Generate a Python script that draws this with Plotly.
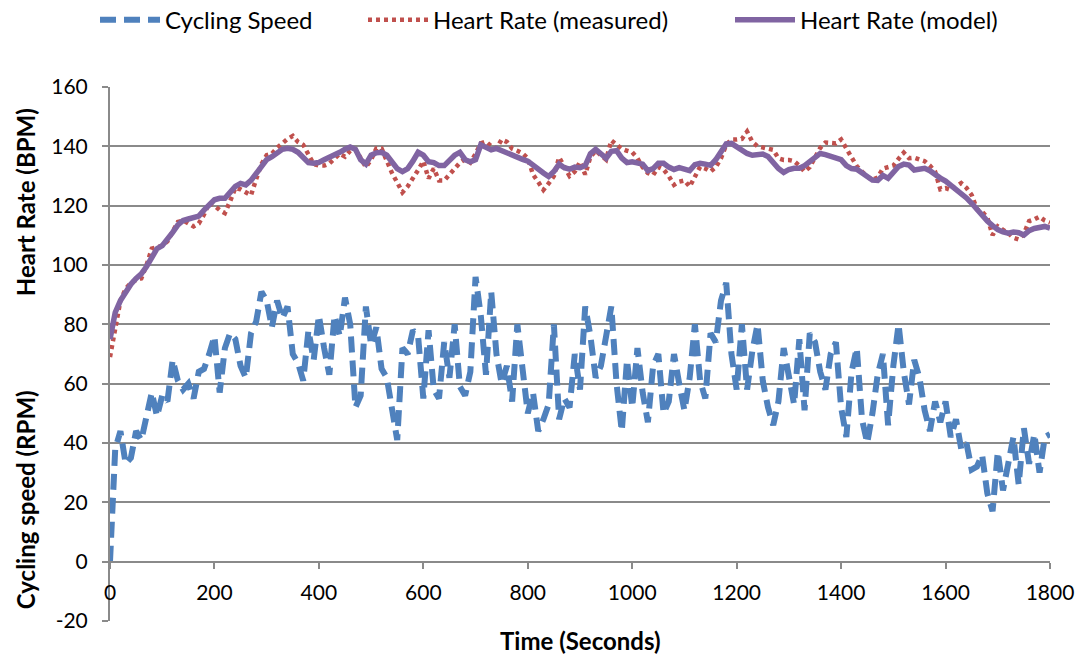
import plotly.graph_objects as go

# time axis (seconds), sampled every 10 s
time_s = list(range(0, 1801, 10))

cycling_speed = [
    0, 38, 44, 33, 35, 44, 41, 50, 57, 49, 56, 54, 68, 61, 58, 60, 55, 64, 65, 70,
    76, 57, 72, 77, 75, 66, 62, 77, 81, 91, 88, 79, 88, 82, 86, 70, 67, 61, 78, 68,
    83, 72, 63, 83, 76, 89, 80, 52, 56, 86, 73, 79, 65, 62, 51, 41, 72, 70, 78, 76,
    55, 78, 58, 55, 74, 62, 80, 59, 56, 64, 96, 83, 63, 91, 70, 60, 66, 54, 80, 64,
    50, 57, 44, 48, 53, 80, 48, 55, 52, 70, 58, 86, 76, 62, 66, 76, 86, 60, 44, 68,
    52, 72, 57, 47, 66, 70, 50, 54, 70, 60, 51, 62, 80, 61, 55, 77, 74, 88, 94, 70,
    58, 80, 58, 71, 80, 61, 52, 46, 54, 72, 63, 53, 75, 51, 77, 74, 64, 58, 70, 74,
    52, 42, 64, 72, 48, 40, 50, 63, 70, 46, 66, 80, 64, 53, 68, 62, 51, 44, 54, 47,
    54, 42, 48, 38, 40, 31, 32, 36, 23, 17, 37, 24, 33, 42, 26, 45, 33, 43, 30, 42,
    43,
]

hr_measured = [
    69, 78, 88, 92, 94, 95, 95.5, 100, 105.5, 106, 106.5, 108, 111.5, 114.5, 115, 114, 113, 114, 117, 121,
    120, 118.5, 117.5, 121.5, 126, 125.5, 124.5, 123.5, 129, 134, 137, 137.5, 139.5, 141, 142.5, 143.5, 141.5, 140.5, 137, 134,
    133.5, 133.5, 134.2, 136, 137.5, 136.5, 138.5, 139, 136, 133, 135.5, 139.3, 139.3, 135, 131, 127.8, 124.5, 126.5, 129, 132,
    135, 129.2, 132.5, 128.5, 128.5, 130.5, 133, 134.5, 135.7, 134.5, 137.5, 141, 141.6, 140, 139.3, 142.3, 141.5, 139.2, 138.5, 137.6,
    136, 130.5, 128, 125.3, 127.5, 130, 136.3, 133.5, 130, 131.5, 134.8, 130.5, 136.5, 138.5, 137, 135.5, 142, 140.8, 139.2, 138.5,
    138, 136, 133, 131, 130.3, 133, 132.2, 130, 127, 128.1, 128.5, 126.4, 130, 133.1, 132.5, 131.5, 133, 136, 140.5, 142.3,
    142.3, 142.5, 145, 141.5, 140, 139.5, 139.3, 138.8, 136, 135.4, 135.4, 135, 133.5, 131.5, 133, 136.5, 139.5, 141.3, 141.3, 141,
    142.3, 139.5, 136.2, 133.3, 131.5, 129.8, 128.7, 129.5, 132.5, 133.1, 133.5, 135.8, 137.9, 136, 136.2, 135.6, 135, 133.5, 131.5, 125.5,
    125.9, 125.3, 126.3, 127.6, 126, 123.6, 118.8, 118, 116, 110.1, 113, 112, 110.7, 109.2, 108.6, 110.5, 114.8, 115.4, 116.3, 115,
    114.3,
]

hr_model = [
    75, 84, 88, 91, 93.5, 95.5, 97, 99.5, 103, 105.5, 106.5, 108.5, 111, 113.5, 115, 115.5, 116, 116.5, 118.5, 120,
    122, 122.5, 122.5, 124.5, 126.5, 127.5, 127, 128.5, 131, 133.5, 135.5, 136.5, 137.5, 139, 139.3, 139, 138, 136.5, 134.5, 134.3,
    134.6, 135.5, 136.2, 137, 138, 139, 139.8, 139, 135.5, 134, 137, 137.8, 138, 137, 135, 132.5, 131.5, 132.5, 135, 138,
    137, 134.8, 134.5, 133.5, 133.5, 135.3, 137, 138, 135.5, 134.8, 135.5, 140.5, 139.5, 138.8, 139.3, 138.5, 137.5, 136.7, 136, 135.6,
    135, 133.5, 132.3, 131, 129.8, 131.5, 134, 132.8, 132.3, 133, 132.8, 133.5, 137.5, 139, 137.5, 136, 138.3, 138.5, 136, 134.5,
    134.8, 134.5, 134, 131.8, 132.5, 134.3, 134.3, 133, 132.2, 132.8, 132.3, 131.8, 133.8, 134.3, 134, 133.6, 135.5, 138, 140.8, 141,
    139.8, 138.5, 137.6, 137, 137.4, 137.4, 136.6, 134.6, 132.5, 131.2, 132.2, 132.6, 132.6, 133.5, 135, 136.6, 137.6, 137.2, 136.6, 136,
    135.5, 133.5, 132.5, 132.3, 131, 129.7, 128.6, 128.5, 130.2, 129.2, 131, 133.2, 134, 133.7, 132, 132.2, 132.6, 131.8, 130.3, 129.3,
    128.3, 127, 125.7, 124.3, 122.6, 120.8, 118.7, 116.6, 114.8, 113.3, 111.9, 111.2, 110.7, 111.1, 110.9, 110.1, 111.6, 112.3, 112.7, 113,
    112.4,
]

x_ticks = list(range(0, 1801, 200))
y_ticks = list(range(-20, 161, 20))

FONT = "Lato"
GRID = "#8a8a8a"
PLOT_L, PLOT_W = 110, 940


def px_to_paper_x(px):
    return (px - PLOT_L) / PLOT_W


fig = go.Figure()
fig.add_trace(go.Scatter(
    x=time_s, y=cycling_speed, name="Cycling Speed", mode="lines", legend="legend",
    line=dict(color="#4F81BD", width=6, dash="16px,8px"),
))
fig.add_trace(go.Scatter(
    x=time_s, y=hr_measured, name="Heart Rate (measured)", mode="lines", legend="legend2",
    line=dict(color="#C0504D", width=4.5, dash="4px,4px"),
))
fig.add_trace(go.Scatter(
    x=time_s, y=hr_model, name="Heart Rate (model)", mode="lines", legend="legend3",
    line=dict(color="#8064A2", width=5.5),
))

legend_common = dict(
    orientation="h", xanchor="left", y=1.125, yanchor="middle",
    font=dict(family=FONT, size=24, color="black"),
    itemwidth=60, bgcolor="rgba(0,0,0,0)",
)

fig.update_layout(
    width=1079, height=657,
    margin=dict(l=110, r=29, t=87, b=36, autoexpand=False),
    plot_bgcolor="white", paper_bgcolor="white",
    font=dict(family=FONT, size=21, color="black"),
    showlegend=True,
    legend=dict(legend_common, x=px_to_paper_x(95)),
    legend2=dict(legend_common, x=px_to_paper_x(363)),
    legend3=dict(legend_common, x=px_to_paper_x(730)),
    xaxis=dict(
        range=[0, 1800], tickvals=x_ticks, ticktext=[str(v) for v in x_ticks],
        anchor="free", position=20 / 180,
        showline=True, linecolor=GRID, linewidth=2,
        ticks="outside", ticklen=6, tickcolor=GRID, tickwidth=2,
        ticklabelstandoff=6,
        showgrid=False, zeroline=False,
        tickfont=dict(family=FONT, size=21),
    ),
    yaxis=dict(
        range=[-20, 160], tickvals=y_ticks, ticktext=[str(v) for v in y_ticks],
        showline=True, linecolor=GRID, linewidth=2,
        ticks="outside", ticklen=6, tickcolor=GRID, tickwidth=2,
        ticklabelstandoff=10,
        showgrid=True, gridcolor=GRID, gridwidth=1.6, zeroline=False,
        tickfont=dict(family=FONT, size=21),
    ),
    annotations=[
        dict(text="<b>Time (Seconds)</b>", xref="paper", yref="paper", x=0.5, y=-0.036,
             xanchor="center", yanchor="middle", showarrow=False,
             font=dict(family=FONT, size=24)),
        dict(text="<b>Heart Rate (BPM)</b>", xref="paper", yref="paper", x=-0.09, y=0.785,
             xanchor="center", yanchor="middle", textangle=-90, showarrow=False,
             font=dict(family=FONT, size=24)),
        dict(text="<b>Cycling speed (RPM)</b>", xref="paper", yref="paper", x=-0.09, y=0.227,
             xanchor="center", yanchor="middle", textangle=-90, showarrow=False,
             font=dict(family=FONT, size=24)),
    ],
)

fig.write_html(
    "out.html",
    config={"displayModeBar": False},
    post_script="document.body.style.margin='0';document.body.style.overflow='hidden';",
)
